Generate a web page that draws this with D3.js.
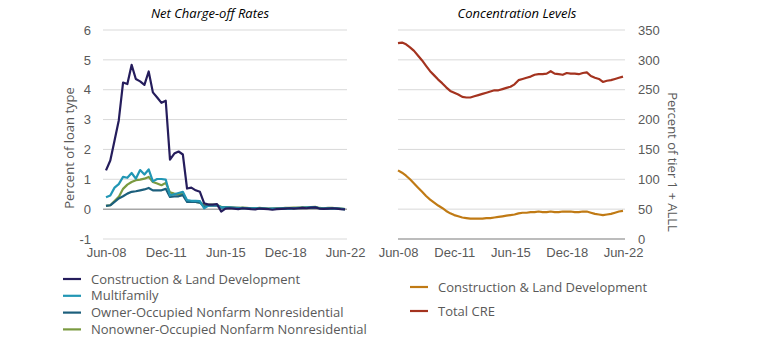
<!DOCTYPE html>
<html>
<head>
<meta charset="utf-8">
<script src="https://cdn.jsdelivr.net/npm/d3@7"></script>
<style>
  body { margin: 0; background: #fff; }
  svg { font-family: "Open Sans", Lato, sans-serif; }
  .tick text { fill: #595959; font-size: 13px; }
</style>
</head>
<body>
<svg id="chart" width="774" height="340"></svg>
<script>
  "use strict";

  // quarterly, Jun-08 .. Jun-22
  var quarters = d3.timeMonth.range(new Date(2008, 5, 1), new Date(2022, 6, 1), 3);
  var xTickDates = [new Date(2008, 5, 1), new Date(2011, 11, 1), new Date(2015, 5, 1), new Date(2018, 11, 1), new Date(2022, 5, 1)];

  // net charge-off rates, percent of loan type
  var constructionNco = [1.3, 1.63, 2.3, 2.97, 4.24, 4.19, 4.83, 4.36, 4.28, 4.16, 4.61, 3.91, 3.74, 3.56, 3.63, 1.66, 1.86, 1.93, 1.83, 0.69, 0.72, 0.63, 0.58,
    0.2, 0.15, 0.15, 0.17, -0.08, 0.02, 0.03, 0.02, 0.0, 0.03, 0.02, 0.0, -0.01, 0.02, 0.01, 0.0, -0.02, 0.0, 0.01, 0.02, 0.03, 0.02, 0.03, 0.04, 0.03, 0.05, 0.06, 0.02, 0.01, 0.02, 0.03, 0.02, 0.0, -0.01];
  var multifamilyNco = [0.4, 0.46, 0.72, 0.84, 1.08, 1.05, 1.21, 1.02, 1.31, 1.16, 1.33, 0.93, 1.01, 1.01, 0.99, 0.46, 0.5, 0.54, 0.58, 0.3, 0.28, 0.28, 0.27,
    0.03, 0.12, 0.13, 0.13, 0.06, 0.06, 0.05, 0.04, 0.03, 0.04, 0.03, 0.02, 0.03, 0.02, 0.02, 0.01, 0.02, 0.01, 0.02, 0.03, 0.02, 0.03, 0.04, 0.04, 0.05, 0.06, 0.07, 0.03, 0.02, 0.03, 0.03, 0.02, 0.01, 0.0];
  var ownerOccNco = [0.11, 0.13, 0.24, 0.36, 0.43, 0.52, 0.58, 0.6, 0.63, 0.66, 0.71, 0.63, 0.63, 0.63, 0.68, 0.41, 0.43, 0.43, 0.47, 0.24, 0.24, 0.24, 0.22,
    0.08, 0.12, 0.12, 0.12, 0.05, 0.05, 0.05, 0.04, 0.04, 0.03, 0.03, 0.03, 0.02, 0.02, 0.02, 0.01, 0.01, 0.02, 0.02, 0.02, 0.03, 0.03, 0.03, 0.04, 0.04, 0.05, 0.05, 0.03, 0.02, 0.02, 0.02, 0.02, 0.01, 0.0];
  var nonownerOccNco = [0.11, 0.13, 0.27, 0.41, 0.68, 0.82, 0.91, 0.97, 0.99, 1.02, 1.08, 0.91, 0.86, 0.8, 0.88, 0.56, 0.52, 0.49, 0.52, 0.28, 0.24, 0.24, 0.22,
    0.15, 0.15, 0.15, 0.14, 0.08, 0.07, 0.06, 0.05, 0.04, 0.05, 0.04, 0.03, 0.03, 0.04, 0.03, 0.02, 0.02, 0.03, 0.03, 0.04, 0.04, 0.05, 0.05, 0.06, 0.06, 0.07, 0.08, 0.04, 0.03, 0.04, 0.04, 0.03, 0.02, 0.0];

  // concentration levels, percent of tier 1 + ALLL
  var constructionConc = [115, 111, 106, 100, 93, 86, 79, 72, 66, 61, 56, 52, 47, 43, 40, 38, 36, 35, 34, 34, 34, 34, 35, 35, 36, 37, 38, 39, 40, 41,
    43, 44, 44, 45, 45, 46, 45, 45, 46, 45, 45, 46, 46, 46, 45, 45, 46, 46, 44, 42, 41, 40, 41, 42, 44, 46, 47];
  var totalCreConc = [328, 329, 326, 321, 315, 307, 299, 290, 281, 274, 267, 261, 254, 248, 245, 242, 238, 237, 237, 239, 241, 243, 245, 247, 249, 249, 251, 253, 255, 259,
    266, 268, 270, 272, 275, 276, 276, 277, 281, 277, 276, 275, 278, 277, 277, 276, 278, 279, 273, 270, 268, 263, 265, 266, 268, 270, 272];

  var leftTicks = [-1, 0, 1, 2, 3, 4, 5, 6];
  var rightTicks = [0, 50, 100, 150, 200, 250, 300, 350];

  var leftSeries = [
    { name: "Construction & Land Development", values: constructionNco, color: "#251d5c" },
    { name: "Multifamily", values: multifamilyNco, color: "#2196b4" },
    { name: "Owner-Occupied Nonfarm Nonresidential", values: ownerOccNco, color: "#1c5f7c" },
    { name: "Nonowner-Occupied Nonfarm Nonresidential", values: nonownerOccNco, color: "#7a9a40" }
  ];
  var rightSeries = [
    { name: "Construction & Land Development", values: constructionConc, color: "#c07a14" },
    { name: "Total CRE", values: totalCreConc, color: "#a4331f" }
  ];

  var svg = d3.select("#chart");
  var textColor = "#595959";

  function drawPanel (opts) {
    var g = svg.append("g");
    var x = d3.scaleTime().domain([quarters[0], quarters[quarters.length - 1]]).range(opts.xRange);
    var y = d3.scaleLinear().domain(d3.extent(opts.ticks)).range([239, 30]);

    // gridlines
    g.append("g").selectAll("line").data(opts.ticks).join("line")
      .attr("x1", opts.gridRange[0]).attr("x2", opts.gridRange[1])
      .attr("y1", function (d) { return y(d); }).attr("y2", function (d) { return y(d); })
      .attr("stroke", function (d) { return d === 0 ? "#a6a6a6" : "#d9d9d9"; })
      .attr("stroke-width", function (d) { return d === 0 ? 1.5 : 1; });

    // y axis (labels only)
    var yAxis = opts.side === "left" ? d3.axisLeft(y) : d3.axisRight(y);
    var ya = g.append("g")
      .attr("transform", "translate(" + opts.yAxisX + ",0)")
      .call(yAxis.tickValues(opts.ticks).tickFormat(function (d) { return String(d); }).tickSize(0).tickPadding(0));
    ya.select(".domain").remove();

    // x axis (labels only)
    var xa = g.append("g")
      .attr("transform", "translate(0,248)")
      .call(d3.axisBottom(x).tickValues(xTickDates).tickFormat(d3.timeFormat("%b-%y")).tickSize(0).tickPadding(0));
    xa.select(".domain").remove();
    xa.selectAll("text").attr("dy", "0.71em");

    var line = d3.line()
      .x(function (d, i) { return x(quarters[i]); })
      .y(function (d) { return y(d); });

    // draw last series first so the first one sits on top
    g.append("g").selectAll("path").data(opts.series.slice().reverse()).join("path")
      .attr("d", function (s) { return line(s.values); })
      .attr("fill", "none")
      .attr("stroke", function (s) { return s.color; })
      .attr("stroke-width", 2.2)
      .attr("stroke-linejoin", "round");

    // title
    g.append("text")
      .attr("x", opts.titleX).attr("y", 18)
      .attr("text-anchor", "middle")
      .attr("font-style", "italic")
      .attr("font-size", 13)
      .attr("fill", "#000")
      .text(opts.title);

    // y title
    g.append("text")
      .attr("transform", "translate(" + opts.yTitle[0] + "," + opts.yTitle[1] + ") rotate(" + opts.yTitle[2] + ")")
      .attr("text-anchor", "middle")
      .attr("font-size", 13)
      .attr("fill", textColor)
      .text(opts.yTitleText);

    // legend
    var lg = g.append("g").selectAll("g").data(opts.series).join("g")
      .attr("transform", function (d, i) { return "translate(" + opts.legendX + "," + (opts.legendY + i * opts.legendStep) + ")"; });
    lg.append("line")
      .attr("x1", 0).attr("x2", 18)
      .attr("stroke", function (d) { return d.color; })
      .attr("stroke-width", 2.2);
    lg.append("text")
      .attr("x", 28).attr("dy", "0.35em")
      .attr("font-size", 13)
      .attr("fill", textColor)
      .text(function (d) { return d.name; });
  }

  drawPanel({
    side: "left",
    series: leftSeries,
    ticks: leftTicks,
    xRange: [106, 345],
    gridRange: [103, 347],
    yAxisX: 91,
    title: "Net Charge-off Rates",
    titleX: 210,
    yTitle: [74, 148, -90],
    yTitleText: "Percent of loan type",
    legendX: 63,
    legendY: 279,
    legendStep: 16.8
  });

  drawPanel({
    side: "right",
    series: rightSeries,
    ticks: rightTicks,
    xRange: [398, 623],
    gridRange: [398, 625],
    yAxisX: 638,
    title: "Concentration Levels",
    titleX: 517,
    yTitle: [668, 162, 90],
    yTitleText: "Percent of tier 1 + ALLL",
    legendX: 410,
    legendY: 287,
    legendStep: 24
  });
</script>
</body>
</html>
